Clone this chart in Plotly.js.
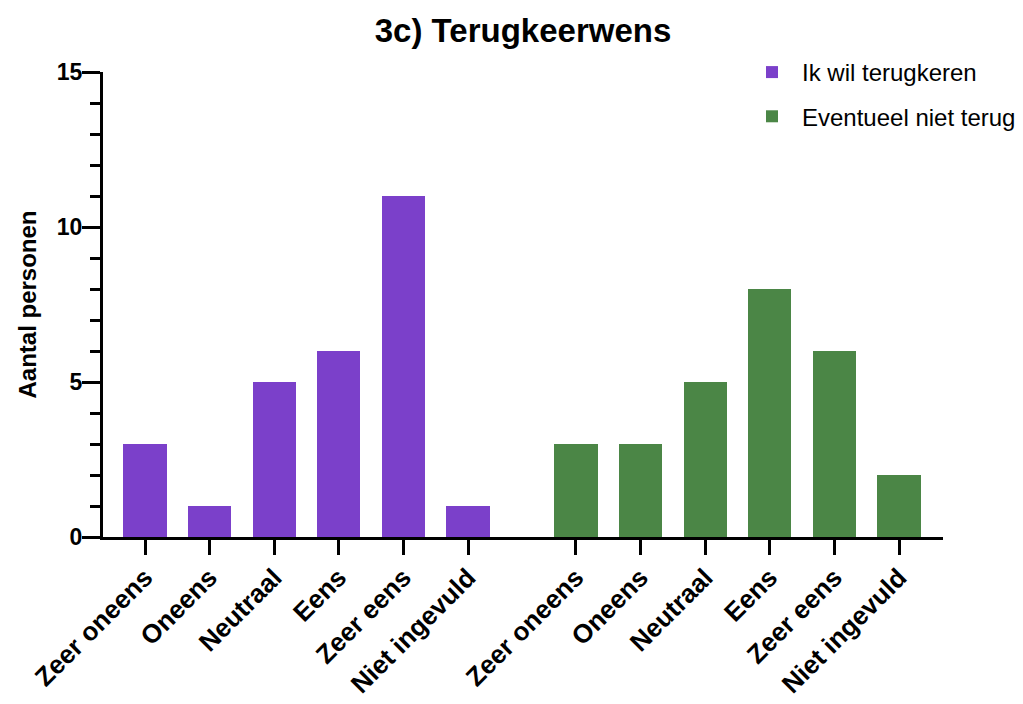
<!DOCTYPE html>
<html>
<head>
<meta charset="utf-8">
<script src="https://cdn.plot.ly/plotly-3.0.1.min.js"></script>
<style>html,body{margin:0;padding:0;background:#fff;}#chart{width:1023px;height:704px;}</style>
</head>
<body>
<div id="chart"></div>
<script>
const categories = ['Zeer oneens', 'Oneens', 'Neutraal', 'Eens', 'Zeer eens', 'Niet ingevuld'];
const ikWilTerugkeren = [3, 1, 5, 6, 11, 1];
const eventueelNietTerug = [3, 3, 5, 8, 6, 2];
const seriesNames = ['Ik wil terugkeren', 'Eventueel niet terug'];
const yTicks = [0, 5, 10, 15];

const groupOffset = 6.67;
const xA = categories.map((c, i) => i);
const xB = categories.map((c, i) => i + groupOffset);

const FONT = 'Liberation Sans, Arial, Helvetica, sans-serif';

const traces = [
  {type: 'bar', name: seriesNames[0], x: xA, y: ikWilTerugkeren, width: 0.67,
   marker: {color: '#7B40CA'}, legendgroup: 'a', hoverinfo: 'y'},
  {type: 'bar', name: seriesNames[1], x: xB, y: eventueelNietTerug, width: 0.67,
   marker: {color: '#4B8646'}, legendgroup: 'b', hoverinfo: 'y'}
];

const layout = {
  width: 1023, height: 704,
  margin: {l: 103, r: 80, t: 72, b: 167, autoexpand: false},
  paper_bgcolor: '#fff', plot_bgcolor: '#fff',
  font: {family: FONT, color: '#000'},
  title: {text: '3c) Terugkeerwens', x: 0.5, xref: 'paper', xanchor: 'center',
          y: 1 - 30 / 704, yref: 'container', yanchor: 'middle',
          font: {size: 33, weight: 'bold', family: FONT, color: '#000'}},
  showlegend: true,
  legend: {xref: 'container', yref: 'container', x: 0.7253, xanchor: 'left', y: 0.929, yanchor: 'top',
           traceorder: 'grouped', tracegroupgap: 10, itemwidth: 50,
           font: {size: 24, family: FONT, color: '#000'},
           bgcolor: 'rgba(0,0,0,0)'},
  xaxis: {
    range: [-0.65, 12.35], fixedrange: true, automargin: false,
    tickmode: 'array', tickvals: xA.concat(xB), ticktext: categories.concat(categories),
    tickangle: -45, ticks: 'outside', ticklen: 15, tickwidth: 3, tickcolor: '#000',
    ticklabelstandoff: -3,
    showline: true, linewidth: 3, linecolor: '#000',
    showgrid: false, zeroline: false,
    tickfont: {size: 26, weight: 'bold', family: FONT, color: '#000'}
  },
  yaxis: {
    range: [0, 15], fixedrange: true, automargin: false,
    tickmode: 'array', tickvals: yTicks, ticktext: yTicks.map(String),
    ticks: 'outside', ticklen: 18, tickwidth: 3, tickcolor: '#000',
    ticklabelstandoff: -5,
    minor: {dtick: 1, ticks: 'outside', ticklen: 10, tickwidth: 3, tickcolor: '#000', showgrid: false},
    showline: true, linewidth: 3, linecolor: '#000',
    showgrid: false, zeroline: false,
    tickfont: {size: 23, weight: 'bold', family: FONT, color: '#000'},
    title: {text: 'Aantal personen', standoff: 14,
            font: {size: 24, weight: 'bold', family: FONT, color: '#000'}}
  },
  bargap: 0
};

Plotly.newPlot('chart', traces, layout, {displayModeBar: false, staticPlot: true});
</script>
</body>
</html>
